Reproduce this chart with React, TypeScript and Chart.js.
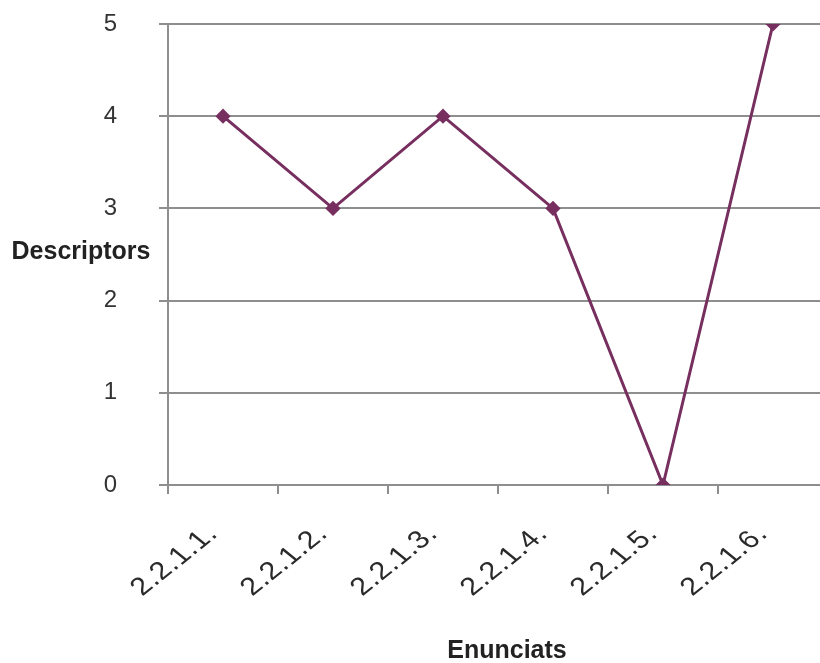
import React, { useEffect, useRef } from 'react';
import { Chart, registerables } from 'chart.js';

Chart.register(...registerables);

const categories = ['2.2.1.1.', '2.2.1.2.', '2.2.1.3.', '2.2.1.4.', '2.2.1.5.', '2.2.1.6.'];
const values = [4, 3, 4, 3, 0, 5];
const yMin = 0;
const yMax = 5;
const yStep = 1;
const yTitle = 'Descriptors';
const xTitle = 'Enunciats';

const GRID = '#8e8e8e';
const LINE = '#772f5f';
const FONT = '"Liberation Sans", Arial, sans-serif';

const textPlugin = {
  id: 'textPlugin',
  afterDraw(chart: any) {
    const ctx = chart.ctx as CanvasRenderingContext2D;
    const xs = chart.scales.x;
    const area = chart.chartArea;
    ctx.save();
    ctx.fillStyle = '#2a2a2a';
    ctx.font = `25px ${FONT}`;
    (ctx as any).letterSpacing = '0.5px';
    ctx.textAlign = 'right';
    ctx.textBaseline = 'alphabetic';
    categories.forEach((c, i) => {
      const px = xs.getPixelForValue(i);
      ctx.save();
      ctx.translate(px - 4, area.bottom + 50);
      ctx.scale(1.24, 1);
      ctx.rotate((-45 * Math.PI) / 180);
      ctx.fillText(c, 0, 0);
      ctx.restore();
    });
    (ctx as any).letterSpacing = '0px';
    ctx.fillStyle = '#222';
    ctx.font = `bold 25px ${FONT}`;
    ctx.textAlign = 'center';
    ctx.textBaseline = 'middle';
    ctx.fillText(yTitle, 81, (area.top + area.bottom) / 2 - 2);
    ctx.fillText(xTitle, 507, area.bottom + 166);
    ctx.restore();
  },
};

export default function App() {
  const ref = useRef<HTMLCanvasElement | null>(null);
  useEffect(() => {
    if (!ref.current) return;
    const chart = new Chart(ref.current, {
      type: 'line',
      data: {
        labels: categories,
        datasets: [
          {
            data: values,
            borderColor: LINE,
            backgroundColor: LINE,
            borderWidth: 3,
            pointStyle: 'rectRot',
            pointRadius: 5.5,
            pointHoverRadius: 5.5,
            tension: 0,
            fill: false,
          },
        ],
      },
      options: {
        animation: false,
        responsive: false,
        devicePixelRatio: 1,
        layout: { padding: { top: 24, right: 12, left: 0, bottom: 0 } },
        plugins: { legend: { display: false }, tooltip: { enabled: false } },
        scales: {
          x: {
            type: 'category',
            offset: true,
            grid: {
              offset: true,
              drawOnChartArea: false,
              drawTicks: true,
              tickLength: 9,
              color: GRID,
              lineWidth: 2,
            },
            border: { display: true, color: GRID, width: 2 },
            ticks: { display: false },
            afterFit: (s: any) => {
              s.height = 178;
              s.paddingLeft = 0;
              s.paddingRight = 0;
            },
          },
          y: {
            min: yMin,
            max: yMax,
            grid: { color: GRID, lineWidth: 2, drawTicks: true, tickLength: 9 },
            border: { display: true, color: GRID, width: 2 },
            ticks: {
              stepSize: yStep,
              padding: 42,
              color: '#333',
              font: { family: FONT, size: 24 },
            },
            afterFit: (s: any) => {
              s.width = 168;
              s.paddingTop = 0;
              s.paddingBottom = 0;
            },
          },
        },
      },
      plugins: [textPlugin],
    });
    return () => chart.destroy();
  }, []);
  return (
    <div
      style={{
        position: 'fixed',
        left: 0,
        top: 0,
        width: 820,
        height: 663,
        overflow: 'hidden',
        background: '#fff',
      }}
    >
      <canvas ref={ref} width={840} height={663} style={{ width: 840, height: 663, display: 'block' }} />
    </div>
  );
}
